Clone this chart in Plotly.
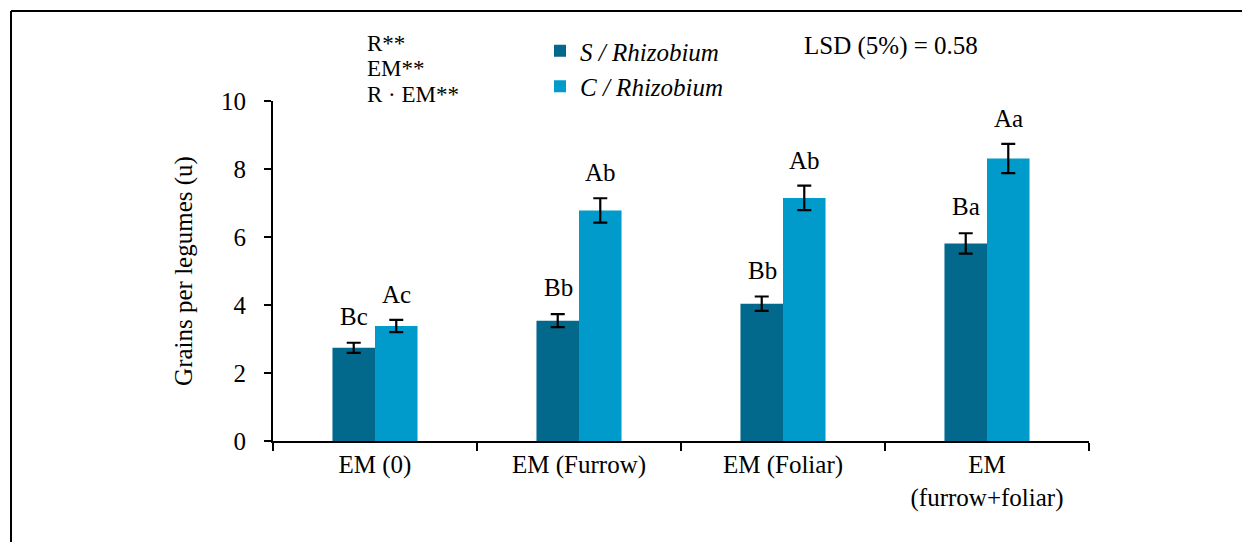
import plotly.graph_objects as go

categories = ["EM (0)", "EM (Furrow)", "EM (Foliar)", "EM<br>(furrow+foliar)"]
s_values = [2.74, 3.54, 4.04, 5.81]
s_errors = [0.15, 0.19, 0.21, 0.30]
c_values = [3.38, 6.78, 7.15, 8.31]
c_errors = [0.18, 0.36, 0.36, 0.43]
s_letters = ["Bc", "Bb", "Bb", "Ba"]
c_letters = ["Ac", "Ab", "Ab", "Aa"]
y_ticks = [0, 2, 4, 6, 8, 10]

S_COLOR = "#02698C"
C_COLOR = "#009BCA"
FONT = "Liberation Serif, Times New Roman, serif"
FS = 25

# page body has an 8px margin: compensate so the plot lands where the reference has it
OFF = 8
W, H = 1250 - OFF, 542 - OFF
L, T = 273 - OFF, 101 - OFF
pw, ph = 816, 340
R, B = W - L - pw, H - T - ph

def px(x):
    return (x - OFF - L) / pw

def py(y):
    return (T + ph - (y - OFF)) / ph

fig = go.Figure()
fig.add_trace(go.Bar(
    x=categories, y=s_values, name="<i>S / Rhizobium</i>",
    marker=dict(color=S_COLOR, line=dict(width=0)),
    error_y=dict(type="data", array=s_errors, color="black", thickness=2.2, width=7),
))
fig.add_trace(go.Bar(
    x=categories, y=c_values, name="<i>C / Rhizobium</i>",
    marker=dict(color=C_COLOR, line=dict(width=0)),
    error_y=dict(type="data", array=c_errors, color="black", thickness=2.2, width=7),
))

annotations = []
for cat, v, e, t in zip(categories, s_values, s_errors, s_letters):
    annotations.append(dict(x=cat, y=v + e, text=t, showarrow=False, xref="x", yref="y",
                            xshift=-21, yshift=11, yanchor="bottom",
                            font=dict(family=FONT, size=FS, color="black")))
for cat, v, e, t in zip(categories, c_values, c_errors, c_letters):
    annotations.append(dict(x=cat, y=v + e, text=t, showarrow=False, xref="x", yref="y",
                            xshift=21, yshift=10, yanchor="bottom",
                            font=dict(family=FONT, size=FS, color="black")))

for text, xx, yy, fs in [("R**", 365, 44, 23), ("EM**", 365, 69, 23), ("R · EM**", 365, 94, 23),
                         ("LSD (5%) = 0.58", 802, 46, FS)]:
    annotations.append(dict(x=px(xx), y=py(yy), xref="paper", yref="paper", text=text,
                            showarrow=False, xanchor="left", yanchor="middle",
                            font=dict(family=FONT, size=fs, color="black")))

shapes = [
    dict(type="line", xref="paper", yref="paper", x0=px(11), x1=px(1270), y0=py(11), y1=py(11),
         line=dict(color="black", width=2)),
    dict(type="line", xref="paper", yref="paper", x0=px(11), x1=px(11), y0=py(11), y1=py(570),
         line=dict(color="black", width=2)),
]

fig.update_layout(
    width=W, height=H,
    margin=dict(l=L, r=R, t=T, b=B, autoexpand=False),
    paper_bgcolor="white", plot_bgcolor="white",
    barmode="group", bargap=0.583, bargroupgap=0,
    font=dict(family=FONT, size=FS, color="black"),
    showlegend=True,
    legend=dict(x=px(540), y=py(28), xanchor="left", yanchor="top",
                bgcolor="rgba(0,0,0,0)", font=dict(family=FONT, size=FS, color="black"),
                tracegroupgap=0),
    annotations=annotations,
    shapes=shapes,
)
fig.update_xaxes(
    type="category", showline=True, linecolor="black", linewidth=2,
    ticks="outside", tickson="boundaries", ticklen=8, tickwidth=2, tickcolor="black",
    showgrid=False, zeroline=False,
    tickfont=dict(family=FONT, size=FS, color="black"),
)
fig.update_yaxes(
    range=[0, 10], tickvals=y_ticks, showline=True, linecolor="black", linewidth=2,
    ticks="outside", ticklen=7, tickwidth=2, tickcolor="black",
    showgrid=False, zeroline=False, ticklabelstandoff=13,
    title=dict(text="Grains per legumes (u)", font=dict(family=FONT, size=FS, color="black"),
               standoff=21),
    tickfont=dict(family=FONT, size=FS, color="black"),
)

fig.write_html("out.html")
